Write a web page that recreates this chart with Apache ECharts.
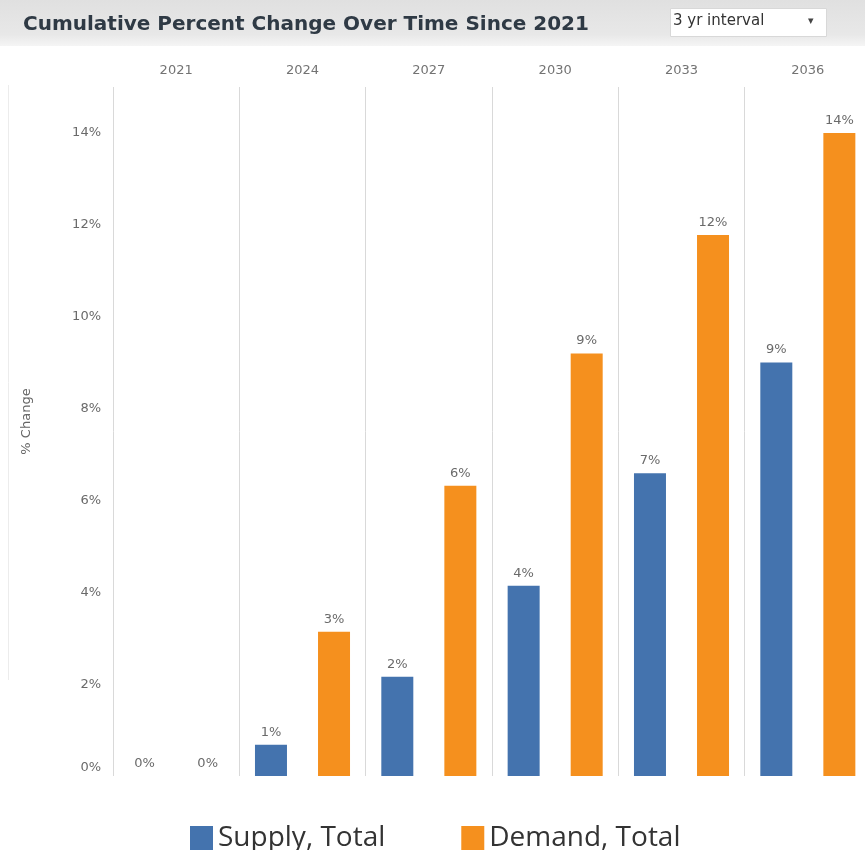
<!DOCTYPE html>
<html>
<head>
<meta charset="utf-8">
<script src="https://cdn.jsdelivr.net/npm/echarts@6/dist/echarts.min.js"></script>
<style>html,body{margin:0;padding:0;background:#fff;}#c{width:865px;height:850px;}</style>
</head>
<body>
<div id="c"></div>
<script>
const years = ['2021', '2024', '2027', '2030', '2033', '2036'];
const supplyTotal = [0, 0.68, 2.16, 4.14, 6.59, 9.0];
const demandTotal = [0, 3.14, 6.32, 9.2, 11.78, 14.0];
const seriesNames = ['Supply, Total', 'Demand, Total'];
const titleText = 'Cumulative Percent Change Over Time Since 2021';
const dropdownText = '3 yr interval';
const yAxisName = '% Change';

const smallFont = '"DejaVu Sans", sans-serif';
const chart = echarts.init(document.getElementById('c'), null, {renderer: 'canvas'});
const labelCfg = {
  show: true, position: 'top', distance: 6, color: '#6a6a6a', fontSize: 13,
  fontFamily: smallFont,
  formatter: p => Math.round(p.value) + '%'
};
chart.setOption({
  animation: false,
  backgroundColor: '#fff',
  graphic: [
    {type: 'rect', left: 0, top: 0, shape: {width: 865, height: 46},
     style: {fill: new echarts.graphic.LinearGradient(0, 0, 0, 1, [
       {offset: 0, color: '#e0e0e0'}, {offset: 0.75, color: '#e8e8e8'}, {offset: 1, color: '#f5f5f5'}])}, z: 0},
    {type: 'rect', left: 670, top: 8, shape: {width: 156, height: 28},
     style: {fill: '#ffffff', stroke: '#d8d8d8', lineWidth: 1}, z: 1},
    {type: 'text', left: 673, top: 14, style: {text: dropdownText, fill: '#333', font: '15px "DejaVu Sans", sans-serif'}, z: 2},
    {type: 'text', left: 808, top: 16, style: {text: '▾', fill: '#444', font: '11px "DejaVu Sans", sans-serif'}, z: 2},
    {type: 'line', shape: {x1: 8.5, y1: 85, x2: 8.5, y2: 680}, style: {stroke: '#ececec', lineWidth: 1}, z: 0}
  ],
  title: {
    text: titleText, left: 18, top: 10,
    textStyle: {fontSize: 20, fontWeight: 'bold', color: '#2f3a45', fontFamily: smallFont}
  },
  legend: {
    data: seriesNames, left: 185, top: 819, itemWidth: 23, itemHeight: 24, itemGap: 76,
    icon: 'rect',
    textStyle: {fontSize: 28, color: '#333', fontFamily: 'Open Sans, sans-serif'}
  },
  grid: {left: 113, width: 758, top: 87, bottom: 74, containLabel: false, outerBoundsMode: 'none'},
  xAxis: {
    type: 'category', data: years, position: 'top',
    axisLine: {show: false}, axisTick: {show: false},
    axisLabel: {color: '#737373', fontSize: 13, margin: 10, fontFamily: smallFont},
    splitLine: {show: true, lineStyle: {color: '#d9d9d9', width: 1}}
  },
  yAxis: {
    type: 'value', min: 0, max: 15, interval: 2,
    name: yAxisName, nameLocation: 'middle', nameGap: 80, nameRotate: 90,
    nameTextStyle: {color: '#666', fontSize: 13, fontFamily: smallFont, padding: [0, 0, 0, 20]},
    axisLine: {show: false}, axisTick: {show: false}, splitLine: {show: false},
    axisLabel: {color: '#6a6a6a', fontSize: 13, margin: 12, showMaxLabel: false,
      fontFamily: smallFont,
      formatter: v => v === 0 ? '{z|0%}' : v + '%',
      rich: {z: {color: '#6a6a6a', fontSize: 13, fontFamily: smallFont, padding: [0, 0, 16, 0]}}}
  },
  series: [
    {name: seriesNames[0], type: 'bar', data: supplyTotal, barWidth: 32, barGap: '97%',
     itemStyle: {color: '#4473ae'}, label: labelCfg},
    {name: seriesNames[1], type: 'bar', data: demandTotal, barWidth: 32,
     itemStyle: {color: '#f5901e'}, label: labelCfg}
  ]
});
</script>
</body>
</html>
